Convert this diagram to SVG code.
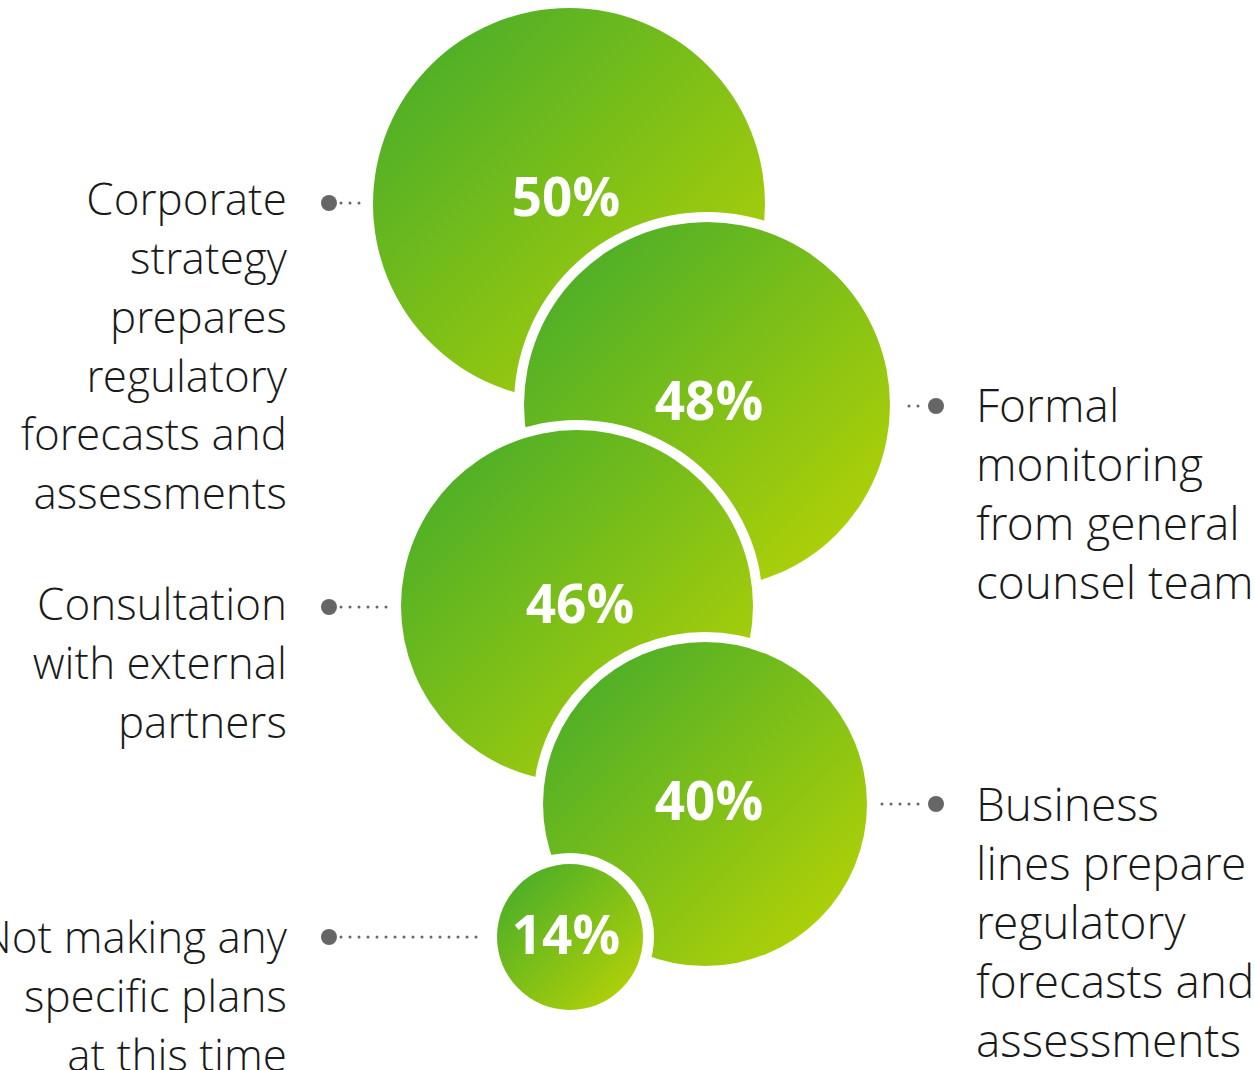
<svg xmlns="http://www.w3.org/2000/svg" width="1255" height="1070" viewBox="0 0 1255 1070">
<defs>
<linearGradient id="g" x1="0.15" y1="0.15" x2="0.85" y2="0.85">
<stop offset="0" stop-color="#52b026"/>
<stop offset="1" stop-color="#abcf09"/>
</linearGradient>
<style>
.lbl{font-family:"Open Sans Light","Open Sans","Liberation Sans",sans-serif;font-weight:300;font-size:44px;fill:#1a1a1a}
.l{text-anchor:end}
.r{font-size:46px}
.pct{font-family:"Open Sans","Liberation Sans",sans-serif;font-weight:700;font-size:53px;fill:#fff;text-anchor:middle}
.ring{fill:#fff}
.c{fill:url(#g)}
.dot{fill:#666}
.dl{stroke:#666;stroke-width:3;stroke-linecap:round;stroke-dasharray:0 9;fill:none}
</style>
</defs>
<rect width="1255" height="1070" fill="#fff"/>
<g id="c50"><circle class="c" cx="569" cy="204" r="196"/><text class="pct" x="566" y="216">50%</text></g>
<g id="c48"><circle class="ring" cx="707" cy="405" r="193"/><circle class="c" cx="707" cy="405" r="183"/><text class="pct" x="709" y="420">48%</text></g>
<g id="c46"><circle class="ring" cx="577" cy="606" r="186"/><circle class="c" cx="577" cy="606" r="176"/><text class="pct" x="580" y="623">46%</text></g>
<g id="c40"><circle class="ring" cx="705" cy="804" r="172"/><circle class="c" cx="705" cy="804" r="162"/><text class="pct" x="709" y="820">40%</text></g>
<g id="c14"><circle class="ring" cx="570" cy="937" r="84"/><circle class="c" cx="570" cy="937" r="73"/><text class="pct" x="566" y="954">14%</text></g>
<g id="connectors">
<circle class="dot" cx="329" cy="203" r="8"/><path class="dl" d="M341 203H360"/>
<circle class="dot" cx="329" cy="607" r="8"/><path class="dl" d="M341 607H388"/>
<circle class="dot" cx="329" cy="937" r="8"/><path class="dl" d="M341 937H481"/>
<circle class="dot" cx="936" cy="406" r="8"/><path class="dl" d="M909 406H919"/>
<circle class="dot" cx="936" cy="804" r="8"/><path class="dl" d="M882 804H919"/>
</g>
<g id="t1"><text class="lbl l" x="287" y="215">Corporate</text><text class="lbl l" x="287" y="274">strategy</text><text class="lbl l" x="287" y="333">prepares</text><text class="lbl l" x="287" y="392">regulatory</text><text class="lbl l" x="287" y="450">forecasts and</text><text class="lbl l" x="287" y="509">assessments</text></g>
<g id="t2"><text class="lbl l" x="287" y="620">Consultation</text><text class="lbl l" x="287" y="679">with external</text><text class="lbl l" x="287" y="738">partners</text></g>
<g id="t3"><text class="lbl l" x="287" y="953">Not making any</text><text class="lbl l" x="287" y="1012">specific plans</text><text class="lbl l" x="287" y="1071">at this time</text></g>
<g id="t4"><text class="lbl r" x="976" y="422">Formal</text><text class="lbl r" x="976" y="481">monitoring</text><text class="lbl r" x="976" y="540">from general</text><text class="lbl r" x="976" y="599">counsel team</text></g>
<g id="t5"><text class="lbl r" x="976" y="821">Business</text><text class="lbl r" x="976" y="880">lines prepare</text><text class="lbl r" x="976" y="939">regulatory</text><text class="lbl r" x="976" y="998">forecasts and</text><text class="lbl r" x="976" y="1057">assessments</text></g>
</svg>
